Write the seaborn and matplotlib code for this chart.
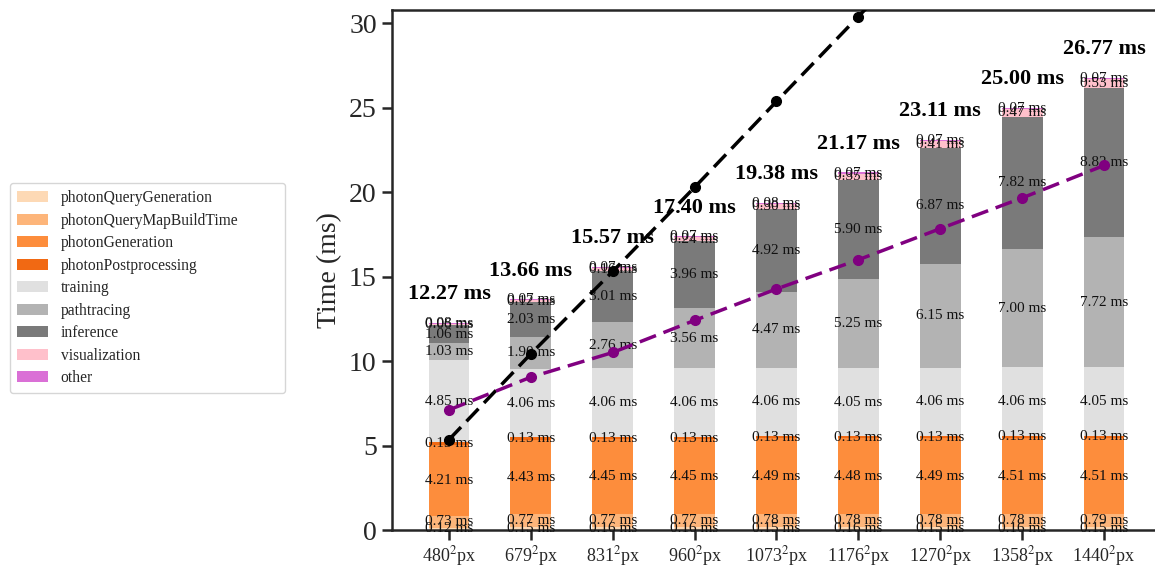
import numpy as np
import pandas as pd
import matplotlib
matplotlib.use("Agg")
import matplotlib.pyplot as plt
from matplotlib.patches import Patch
import seaborn as sns

# Frame sizes (side length in pixels)
resolutions = [480, 679, 831, 960, 1073, 1176, 1270, 1358, 1440]

# Per-stage timings in ms, stacked bottom to top
photonQueryGeneration = [0.12, 0.15, 0.16, 0.16, 0.15, 0.16, 0.15, 0.16, 0.15]
photonQueryMapBuildTime = [0.73, 0.77, 0.77, 0.77, 0.78, 0.78, 0.78, 0.78, 0.79]
photonGeneration = [4.21, 4.43, 4.45, 4.45, 4.49, 4.48, 4.49, 4.51, 4.51]
photonPostprocessing = [0.13, 0.13, 0.13, 0.13, 0.13, 0.13, 0.13, 0.13, 0.13]
training = [4.85, 4.06, 4.06, 4.06, 4.06, 4.05, 4.06, 4.06, 4.05]
pathtracing = [1.03, 1.90, 2.76, 3.56, 4.47, 5.25, 6.15, 7.00, 7.72]
inference = [1.06, 2.03, 3.01, 3.96, 4.92, 5.90, 6.87, 7.82, 8.82]
visualization = [0.06, 0.12, 0.16, 0.24, 0.30, 0.35, 0.41, 0.47, 0.53]
other = [0.08, 0.07, 0.07, 0.07, 0.08, 0.07, 0.07, 0.07, 0.07]

# Reference trend lines (ms)
linear_trend = [5.35, 10.43, 15.31, 20.29, 25.37, 30.40, 35.42, 40.45, 45.47]
measured_trend = [7.11, 9.05, 10.51, 12.41, 14.27, 16.00, 17.84, 19.66, 21.58]

stage_names = ["photonQueryGeneration", "photonQueryMapBuildTime", "photonGeneration",
               "photonPostprocessing", "training", "pathtracing", "inference",
               "visualization", "other"]
stage_values = [photonQueryGeneration, photonQueryMapBuildTime, photonGeneration,
                photonPostprocessing, training, pathtracing, inference,
                visualization, other]
stage_colors = ["#fdd9b5", "#fdb57a", "#fd8d3c", "#f16913", "#e0e0e0",
                "#b3b3b3", "#7a7a7a", "#ffc0cb", "#da70d6"]

sns.set_theme(style="ticks")
plt.rcParams["font.family"] = ["Liberation Serif", "DejaVu Serif"]
plt.rcParams["mathtext.fontset"] = "stix"
plt.rcParams["axes.linewidth"] = 1.8

labels = [rf"{r}$^2$px" for r in resolutions]
data = np.array(stage_values)
cum = np.cumsum(data, axis=0)
totals = cum[-1]

fig = plt.figure(figsize=(11.55, 5.67), dpi=100)
ax = fig.add_axes([392 / 1155, 1 - 530 / 567, (1160 - 392) / 1155, 520 / 567])

# Stacked bars drawn as overlapping cumulative bars, tallest first
for i in range(len(stage_names) - 1, -1, -1):
    df = pd.DataFrame({"res": labels, "t": cum[i]})
    sns.barplot(data=df, x="res", y="t", color=stage_colors[i], width=0.5,
                saturation=1, ax=ax, order=labels, linewidth=0, edgecolor="none")

x = np.arange(len(resolutions))

# Segment value labels
for i in range(len(stage_names)):
    bottoms = cum[i] - data[i]
    for j in range(len(resolutions)):
        ax.text(x[j], bottoms[j] + data[i][j] / 2, f"{data[i][j]:.2f} ms",
                ha="center", va="center", fontsize=11, color="#111111", zorder=5)

# Totals above each bar
for j in range(len(resolutions)):
    ax.text(x[j], totals[j] + 1.1, f"{totals[j]:.2f} ms", ha="center", va="bottom",
            fontsize=16, fontweight="bold", color="black", zorder=6)

ax.plot(x, linear_trend, color="black", linestyle=(0, (5, 2.3)), linewidth=2.5,
        marker="o", markersize=7, zorder=7)
ax.plot(x, measured_trend, color="purple", linestyle=(0, (5, 2.3)), linewidth=2.5,
        marker="o", markersize=7, zorder=7)

ax.set_xlim(-0.696, 8.684)
ax.set_ylim(0, totals.max() * 1.15)
ax.set_yticks([0, 5, 10, 15, 20, 25, 30])
ax.set_xlabel("")
ax.set_ylabel("Time (ms)", fontsize=20, labelpad=5)
ax.tick_params(axis="y", labelsize=20, length=7, width=1.8, pad=4)
ax.tick_params(axis="x", labelsize=13, length=7, width=1.8, pad=3)
ax.set_xticks(x)
ax.set_xticklabels(labels)

handles = [Patch(facecolor=c, edgecolor="none", label=n)
           for n, c in zip(stage_names, stage_colors)]
fig.legend(handles=handles, loc="upper left",
           bbox_to_anchor=(10 / 1155, 1 - 183 / 567 - 0.01, 275 / 1155, 0.01),
           mode="expand", borderaxespad=0, fontsize=11.2, frameon=True,
           fancybox=True, edgecolor="#cccccc", handlelength=2.0,
           handleheight=0.7, labelspacing=0.42, borderpad=0.45,
           handletextpad=0.8)

fig.savefig("out.png", dpi=100)
